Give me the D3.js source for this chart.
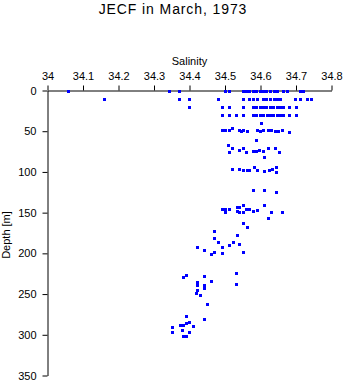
<!DOCTYPE html>
<html>
<head>
<meta charset="utf-8">
<script src="https://cdn.jsdelivr.net/npm/d3@7"></script>
<style>
  html, body { margin: 0; padding: 0; background: #fff; }
  svg { display: block; font-family: "Liberation Sans", Arial, Helvetica, sans-serif; }
</style>
</head>
<body>
<svg id="chart" width="346" height="384"></svg>
<script>
// ---- data ----
const title = "JECF in March, 1973";
const xLabel = "Salinity";
const yLabel = "Depth [m]";
const xTicks = [34, 34.1, 34.2, 34.3, 34.4, 34.5, 34.6, 34.7, 34.8];
const yTicks = [0, 50, 100, 150, 200, 250, 300, 350];

const salinity = [
  // 0 m
  34.058, 34.342, 34.370, 34.499, 34.510, 34.550, 34.558, 34.569, 34.578, 34.586,
  34.598, 34.606, 34.615, 34.626, 34.637, 34.646, 34.662, 34.674, 34.710, 34.721,
  // 10 m
  34.159, 34.370, 34.398, 34.480, 34.550, 34.569, 34.578, 34.589, 34.606, 34.615,
  34.626, 34.637, 34.646, 34.654, 34.696, 34.710, 34.730, 34.741,
  // 20 m
  34.398, 34.491, 34.510, 34.550, 34.578, 34.586, 34.598, 34.606, 34.615, 34.626,
  34.634, 34.646, 34.654, 34.662, 34.679, 34.699,
  // 30 m
  34.491, 34.510, 34.530, 34.550, 34.578, 34.586, 34.598, 34.606, 34.617, 34.626,
  34.634, 34.646, 34.654, 34.662, 34.679, 34.699,
  // 40 m
  34.600,
  // ~50 m
  34.491, 34.499, 34.510, 34.519, 34.539, 34.544, 34.550, 34.561, 34.589, 34.598,
  34.606, 34.620, 34.629, 34.640, 34.648, 34.660, 34.679,
  // ~60-80 m
  34.586,
  34.508, 34.519, 34.510, 34.539, 34.550, 34.558, 34.578, 34.586, 34.595, 34.606,
  34.620, 34.640, 34.651,
  34.609,
  // ~100 m
  34.519, 34.539, 34.550, 34.561, 34.569, 34.581, 34.589, 34.609, 34.623, 34.631,
  34.643, 34.643,
  // ~125 m
  34.578, 34.609, 34.643,
  // ~145 m
  34.491, 34.499, 34.499, 34.510, 34.533, 34.539, 34.550, 34.533, 34.539, 34.550,
  34.558, 34.569, 34.578, 34.589, 34.609, 34.629, 34.660,
  // 155-200 m
  34.620, 34.550, 34.561, 34.468, 34.533, 34.468, 34.479, 34.522, 34.539, 34.510,
  34.491, 34.420, 34.440, 34.468, 34.550, 34.491, 34.460,
  // 220-265 m
  34.530, 34.381, 34.389, 34.440, 34.420, 34.460, 34.530, 34.420, 34.440, 34.440,
  34.420, 34.418, 34.429, 34.449,
  // 275-305 m
  34.389, 34.440, 34.398, 34.389, 34.373, 34.381, 34.409, 34.350, 34.350, 34.378,
  34.398, 34.381, 34.389
];

const depth = [
  // 0 m
  0, 0, 0, 0, 0, 0, 0, 0, 0, 0,
  0, 0, 0, 0, 0, 0, 0, 0, 0, 0,
  // 10 m
  10, 10, 10, 10, 10, 10, 10, 10, 10, 10,
  10, 10, 10, 10, 10, 10, 10, 10,
  // 20 m
  20, 20, 20, 20, 20, 20, 20, 20, 20, 20,
  20, 20, 20, 20, 20, 20,
  // 30 m
  30, 30, 30, 30, 30, 30, 30, 30, 30, 30,
  30, 30, 30, 30, 30, 30,
  // 40 m
  40,
  // ~50 m
  49, 48, 49, 46, 49, 50, 49, 50, 49, 50,
  48, 48, 49, 50, 50, 49, 51,
  // ~60-80 m
  61,
  67, 71, 75, 73, 70, 75, 74, 74, 73, 74,
  71, 70, 75,
  82,
  // ~100 m
  97, 96, 98, 98, 98, 94, 98, 99, 98, 97,
  94, 100,
  // ~125 m
  122, 122, 125,
  // ~145 m
  146, 145, 149, 145, 143, 143, 141, 148, 149, 149,
  146, 145, 148, 147, 141, 149, 149,
  // 155-200 m
  157, 163, 168, 173, 178, 181, 186, 186, 189, 190,
  192, 192, 196, 198, 198, 200, 201,
  // 220-265 m
  224, 229, 227, 228, 235, 234, 238, 239, 239, 243,
  245, 249, 251, 262,
  // 275-305 m
  277, 281, 284, 285, 288, 288, 289, 290, 296, 294,
  296, 301, 302
];

// ---- layout ----
const svg = d3.select("#chart");
const x = d3.scaleLinear().domain([34, 34.8]).range([47.5, 331.5]);
const y = d3.scaleLinear().domain([0, 350]).range([90.5, 375.5]);

// title
svg.append("text")
  .attr("x", 173).attr("y", 14)
  .attr("text-anchor", "middle")
  .attr("font-size", 14)
  .attr("letter-spacing", 0.9)
  .attr("fill", "#000")
  .text(title);

// x axis (top)
const xAxis = d3.axisTop(x)
  .tickValues(xTicks)
  .tickFormat(d3.format("~g"))
  .tickSize(5).tickSizeOuter(0).tickPadding(6);
const gx = svg.append("g").attr("transform", `translate(0,${y(0)})`).call(xAxis);
gx.selectAll("text").attr("font-size", 11).attr("font-family", null).attr("fill", "#000");
gx.selectAll("line,path").attr("stroke", "#000");

// y axis (left)
const yAxis = d3.axisLeft(y)
  .tickValues(yTicks)
  .tickFormat(d3.format("d"))
  .tickSize(5).tickSizeOuter(0).tickPadding(6);
const gy = svg.append("g").attr("transform", `translate(${x(34)},0)`).call(yAxis);
gy.selectAll("text").attr("font-size", 11).attr("font-family", null).attr("fill", "#000");
gy.selectAll("line,path").attr("stroke", "#000");

// axis titles
svg.append("text")
  .attr("x", (x(34) + x(34.8)) / 2).attr("y", 65)
  .attr("text-anchor", "middle")
  .attr("font-size", 11)
  .text(xLabel);

svg.append("text")
  .attr("transform", `translate(10,${(y(0) + y(350)) / 2 + 2}) rotate(-90)`)
  .attr("text-anchor", "middle")
  .attr("font-size", 11)
  .text(yLabel);

// points
const pts = salinity.map((s, i) => ({ s, d: depth[i] }));
svg.append("g").selectAll("rect")
  .data(pts)
  .join("rect")
  .attr("x", d => Math.round(x(d.s)) - 1)
  .attr("y", d => Math.round(y(d.d)) - 1)
  .attr("width", 3)
  .attr("height", 3)
  .attr("fill", "#0000ff");
</script>
</body>
</html>
